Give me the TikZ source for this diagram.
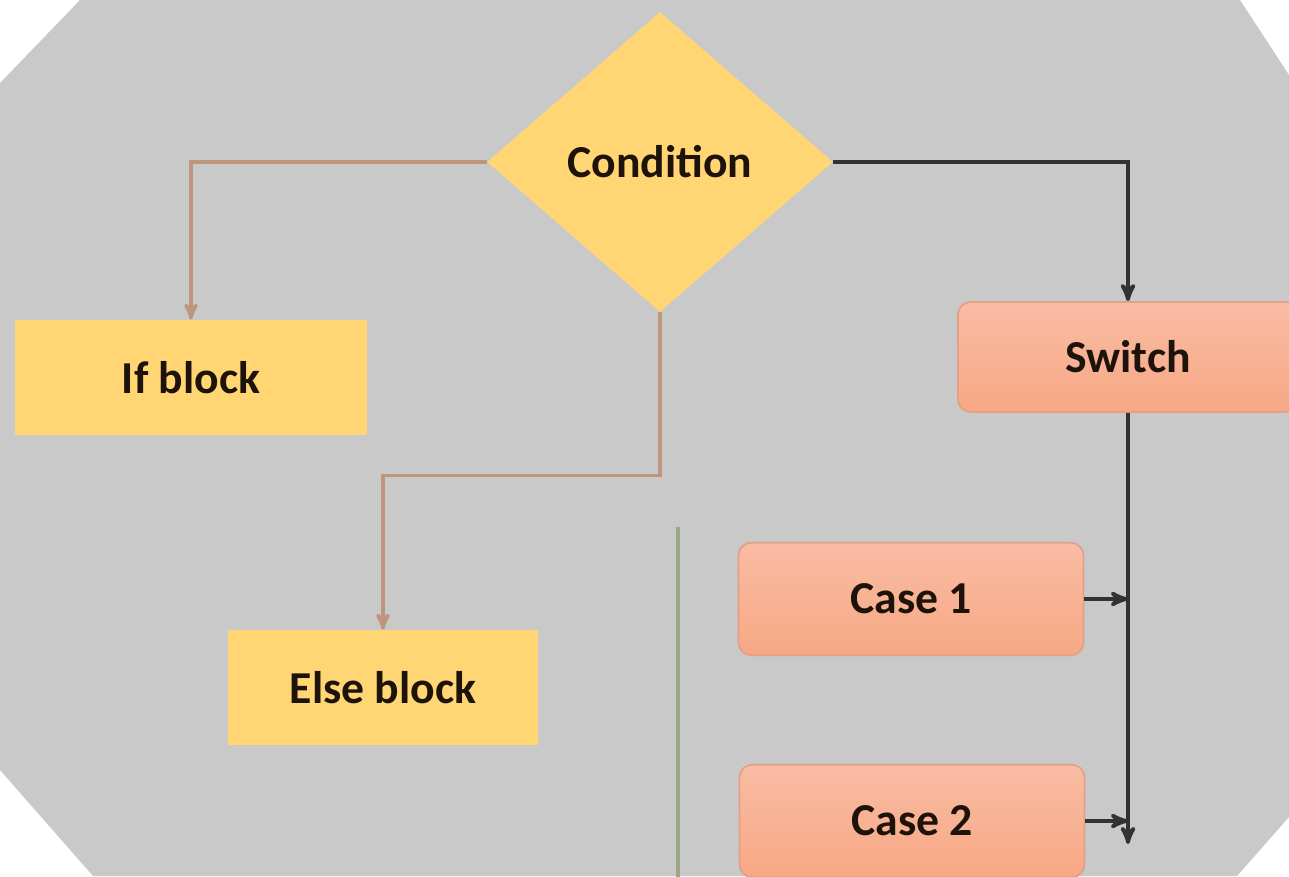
\documentclass[tikz,border=0pt]{standalone}
\usepackage{fontspec}
\setmainfont{Carlito}
\usetikzlibrary{positioning,arrows,shapes.geometric,calc}
\pgfdeclarelayer{bg}
\pgfsetlayers{bg,main}
\definecolor{panelgray}{RGB}{201,201,201}
\definecolor{blockyellow}{RGB}{255,214,115}
\definecolor{salmontop}{RGB}{249,188,164}
\definecolor{salmonbottom}{RGB}{247,168,132}
\definecolor{salmonrim}{RGB}{226,160,136}
\definecolor{linebrown}{RGB}{190,150,124}
\definecolor{lineblack}{RGB}{50,50,50}
\definecolor{linegreen}{RGB}{154,168,138}
\tikzset{
	>=stealth'
}

\begin{document}
\begin{tikzpicture}[
	every node/.style = {
		font = \bfseries\fontsize{26}{30}\selectfont,
		text = black!85!brown
	},
	decision/.style = {
		diamond,
		fill = blockyellow,
		aspect = 1.15,
		inner sep = 0pt,
		minimum width = 6.92cm,
		minimum height = 6cm
	},
	block/.style = {
		fill = blockyellow,
		minimum height = 2.3cm
	},
	casebox/.style = {
		draw = salmonrim,
		line width = 1pt,
		top color = salmontop,
		bottom color = salmonbottom,
		rounded corners = 0.25cm,
		minimum width = 6.9cm,
		minimum height = 2.25cm
	},
	branch/.style = {
		draw = linebrown,
		line width = 2pt
	},
	flow/.style = {
		draw = lineblack,
		line width = 2.2pt
	}
	]
	
	\useasboundingbox (0,0) rectangle (25.78,-17.52);
	\begin{pgfonlayer}{bg}
		\fill[panelgray] (0,-1.66) -- (1.6,0) -- (24.8,0) -- (25.78,-1.5) -- (25.78,-16.34) -- (24.74,-17.52) -- (1.86,-17.52) -- (0,-15.4) -- cycle;
	\end{pgfonlayer}
	
	\node (condition) [decision] at (13.2,-3.24) {Condition};
	\node (if_block) [block, minimum width = 7.04cm] at (3.82,-7.55) {If block};
	\node (else_block) [block, minimum width = 6.2cm] at (7.66,-13.75) {Else block};
	
	\node (switch) [casebox, minimum width = 6.8cm, minimum height = 2.2cm] at (22.56,-7.14) {Switch};
	\node (case_1) [casebox] at (18.22,-11.98) {Case 1};
	\node (case_2) [casebox] at (18.24,-16.42) {Case 2};
	\coordinate (switch_end) at (22.56,-16.88);
	
	\draw[branch, ->] (condition.west) -| (if_block.north);
	\draw[branch, ->] (condition.south) -- ++(0,-3.26) -| (else_block.north);
	
	\draw[flow, ->] (condition.east) -| (switch.north);
	\draw[flow, ->] (switch.south) -- (switch_end);
	\draw[flow, ->] (case_1.east) -- (case_1.east -| switch_end);
	\draw[flow, ->] (case_2.east) -- (case_2.east -| switch_end);
	
	% divider
	\draw[linegreen, line width = 2.4pt] (13.56,-10.54) -- (13.56,-17.6);
	
\end{tikzpicture}
\end{document}
